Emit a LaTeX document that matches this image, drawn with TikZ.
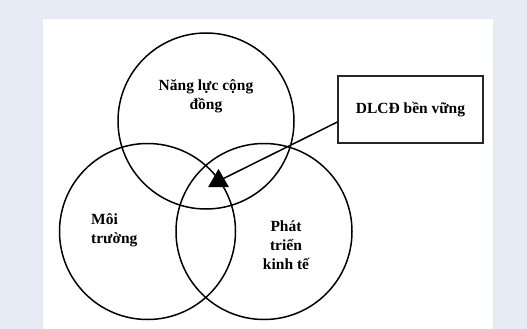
\documentclass[tikz,border=0pt]{standalone}
\usepackage{fontspec}
\setmainfont{Liberation Serif}
\usetikzlibrary{shapes.geometric}
\definecolor{bgblue}{RGB}{230,235,246}
\begin{document}
\begin{tikzpicture}[x=1pt,y=-1pt,
  ring/.style={draw=black,line width=1.5pt,circle,minimum size=176pt,inner sep=0pt},
  lbl/.style={font=\bfseries\fontsize{15.5}{19}\selectfont,align=center,inner sep=0pt},
  infobox/.style={draw=black!85,line width=1.3pt,minimum width=145pt,minimum height=67pt,inner sep=0pt,fill=white}]
\fill[bgblue] (0,0) rectangle (527,329);
\fill[white] (43,19) rectangle (493,329);
\useasboundingbox (0,0) rectangle (527,329);
\node[ring] (top) at (206,121) {};
\node[ring] (left) at (147.5,231.5) {};
\node[ring] (right) at (264,231.5) {};
\node[infobox] (box) at (410.5,109.5) {};
\node[lbl] at (box.center) {DLCĐ bền vững};
\node[lbl] (tl) at (206,96) {Năng lực cộng\\đồng};
\node[lbl,align=left,anchor=west] (ll) at (91,230) {Môi\\trường};
\node[lbl] (rl) at (286,245) {Phát\\triển\\kinh tế};
\node[regular polygon,regular polygon sides=3,fill=black,inner sep=0pt,minimum size=24pt] (tri) at (218.5,181) {};
\draw[line width=1.5pt] (box.west |- 0,122) -- (tri.center);
\end{tikzpicture}
\end{document}
